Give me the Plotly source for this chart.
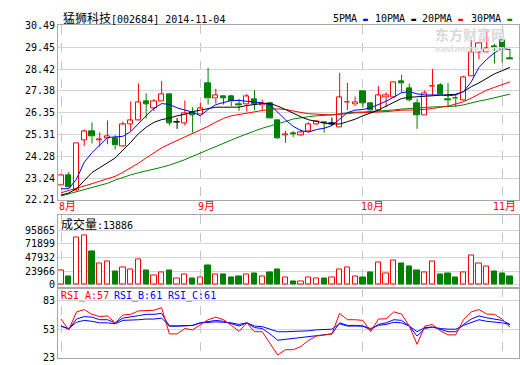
import plotly.graph_objects as go

# ---------------- data ----------------
dates = [
    "2014-08-06", "2014-08-07", "2014-08-08", "2014-08-11", "2014-08-12", "2014-08-13",
    "2014-08-14", "2014-08-15", "2014-08-18", "2014-08-19", "2014-08-20", "2014-08-21",
    "2014-08-22", "2014-08-25", "2014-08-26", "2014-08-27", "2014-08-28", "2014-08-29",
    "2014-09-01", "2014-09-02", "2014-09-03", "2014-09-04", "2014-09-05", "2014-09-09",
    "2014-09-10", "2014-09-11", "2014-09-12", "2014-09-15", "2014-09-16", "2014-09-17",
    "2014-09-18", "2014-09-19", "2014-09-22", "2014-09-23", "2014-09-24", "2014-09-25",
    "2014-09-26", "2014-09-29", "2014-09-30", "2014-10-08", "2014-10-09", "2014-10-10",
    "2014-10-13", "2014-10-14", "2014-10-15", "2014-10-16", "2014-10-17", "2014-10-20",
    "2014-10-21", "2014-10-22", "2014-10-23", "2014-10-24", "2014-10-27", "2014-10-28",
    "2014-10-29", "2014-10-30", "2014-10-31", "2014-11-03", "2014-11-04",
]
opens = [22.90, 23.36, 22.67, 25.05, 25.47, 25.05, 25.12, 25.11, 24.77, 25.81,
         25.99, 26.90, 26.56, 26.89, 27.22, 25.89, 25.86, 26.35, 26.27, 27.76,
         27.01, 27.10, 27.13, 26.76, 26.73, 27.00, 26.69, 26.78, 25.98, 25.28,
         25.37, 25.29, 25.46, 25.81, 25.89, 25.82, 25.63, 26.83, 26.73, 27.36,
         26.78, 26.46, 27.07, 27.09, 27.85, 27.50, 26.81, 26.20, 27.59, 27.64,
         26.98, 27.05, 26.92, 28.08, 29.23, 29.23, 29.51, 29.77, 28.91]
highs = [23.38, 23.54, 24.89, 25.55, 25.89, 25.43, 25.98, 25.28, 25.93, 26.89,
         27.73, 27.27, 26.99, 27.85, 27.22, 26.09, 26.93, 26.61, 26.81, 28.47,
         27.48, 27.16, 27.19, 27.01, 27.24, 27.42, 26.96, 26.85, 26.01, 25.49,
         25.47, 25.55, 25.89, 25.96, 25.91, 26.12, 28.24, 27.77, 27.12, 27.36,
         26.85, 27.61, 27.32, 27.81, 28.14, 27.73, 27.01, 27.42, 28.42, 27.76,
         27.76, 27.22, 28.10, 29.80, 29.65, 30.31, 29.62, 29.77, 29.37]
lows = [22.88, 22.74, 22.64, 24.77, 24.89, 24.74, 24.85, 24.60, 24.74, 25.48,
        25.97, 26.07, 26.43, 26.89, 25.74, 25.58, 25.74, 25.40, 26.27, 26.73,
        26.78, 26.73, 26.66, 26.43, 26.40, 26.47, 26.47, 26.07, 25.12, 24.92,
        25.20, 25.23, 25.41, 25.78, 25.40, 25.74, 25.63, 26.47, 26.66, 26.58,
        26.35, 26.46, 26.60, 27.04, 27.28, 26.88, 25.58, 26.20, 27.16, 27.20,
        26.62, 26.62, 26.90, 28.08, 28.88, 29.23, 28.68, 28.73, 28.86]
closes = [23.36, 22.79, 24.89, 25.46, 25.21, 25.07, 25.23, 24.78, 25.78, 25.97,
          26.84, 26.76, 26.89, 27.24, 25.86, 25.89, 26.30, 26.24, 26.53, 27.01,
          27.18, 27.05, 26.87, 26.69, 27.12, 26.75, 26.81, 26.09, 25.15, 25.32,
          25.32, 25.41, 25.80, 25.92, 25.86, 25.82, 27.07, 26.86, 26.86, 26.81,
          26.44, 27.18, 27.18, 27.81, 27.74, 26.93, 26.23, 27.27, 27.62, 27.22,
          26.93, 27.01, 28.04, 29.23, 29.65, 29.42, 29.46, 29.37, 28.86]
volumes = [25700, 14300, 83900, 86200, 58800, 37700, 41100, 22800, 30800, 27400,
           44500, 24500, 15400, 22300, 24500, 10300, 17100, 10800, 12000, 33100,
           18800, 17700, 12600, 14300, 17100, 20000, 13700, 21100, 26200, 12000,
           5700, 5100, 12000, 10300, 10800, 12000, 27400, 30800, 13700, 12600,
           21100, 39400, 19400, 42800, 38200, 31400, 24500, 21100, 41100, 17700,
           19400, 12600, 22300, 51400, 36500, 32500, 22800, 19400, 13886]
ma5 = [22.74, 22.74, 23.20, 24.00, 24.45, 24.80, 25.17, 25.20, 25.23, 25.45,
       25.85, 26.20, 26.55, 26.78, 26.74, 26.58, 26.47, 26.38, 26.20, 26.50,
       26.73, 26.84, 26.93, 26.93, 26.89, 26.84, 26.81, 26.73, 26.35, 26.01,
       25.70, 25.50, 25.43, 25.55, 25.61, 25.74, 26.04, 26.35, 26.47, 26.50,
       26.58, 26.73, 26.89, 27.09, 27.30, 27.35, 27.24, 27.19, 27.19, 27.19,
       27.15, 27.19, 27.35, 27.81, 28.50, 28.88, 29.19, 29.39, 29.34]
ma10 = [22.44, 22.54, 22.74, 23.13, 23.51, 23.74, 23.97, 24.20, 24.58, 24.94,
        25.35, 25.66, 25.89, 26.02, 26.09, 26.20, 26.27, 26.40, 26.47, 26.53,
        26.61, 26.61, 26.61, 26.61, 26.69, 26.73, 26.78, 26.78, 26.66, 26.50,
        26.32, 26.15, 26.01, 25.92, 25.86, 25.81, 25.81, 25.92, 26.04, 26.20,
        26.35, 26.47, 26.66, 26.84, 27.02, 27.08, 27.10, 27.10, 27.15, 27.18,
        27.20, 27.22, 27.35, 27.58, 27.76, 27.96, 28.19, 28.34, 28.50]
ma20 = [22.55, 22.65, 22.76, 22.87, 22.98, 23.10, 23.21, 23.33, 23.52, 23.72,
        23.95, 24.20, 24.45, 24.68, 24.86, 25.03, 25.20, 25.36, 25.52, 25.70,
        25.90, 26.08, 26.20, 26.27, 26.33, 26.40, 26.45, 26.50, 26.53, 26.50,
        26.42, 26.36, 26.30, 26.27, 26.25, 26.24, 26.27, 26.32, 26.34, 26.35,
        26.36, 26.38, 26.40, 26.43, 26.47, 26.47, 26.47, 26.50, 26.55, 26.60,
        26.66, 26.76, 26.87, 27.04, 27.24, 27.42, 27.55, 27.68, 27.81]
ma30 = [22.40, 22.50, 22.58, 22.67, 22.80, 22.90, 23.00, 23.15, 23.28, 23.40,
        23.50, 23.58, 23.67, 23.76, 23.86, 23.98, 24.12, 24.28, 24.44, 24.58,
        24.74, 24.90, 25.05, 25.20, 25.35, 25.48, 25.61, 25.71, 25.81, 25.93,
        26.05, 26.12, 26.16, 26.20, 26.22, 26.25, 26.30, 26.35, 26.37, 26.38,
        26.40, 26.42, 26.45, 26.48, 26.52, 26.55, 26.57, 26.59, 26.62, 26.63,
        26.64, 26.66, 26.72, 26.82, 26.90, 26.97, 27.05, 27.14, 27.23]
rsi_a = [63.7, 52.3, 71.3, 73.7, 68.7, 66.3, 67.0, 59.7, 68.0, 68.7,
         72.3, 73.0, 73.0, 75.7, 48.0, 48.0, 53.7, 52.3, 58.0, 63.0,
         65.7, 63.0, 57.0, 50.7, 59.7, 50.3, 50.3, 38.0, 25.7, 31.3,
         31.3, 34.7, 41.3, 45.7, 47.0, 48.0, 69.7, 63.0, 63.0, 62.3,
         50.3, 63.7, 64.0, 71.3, 69.0, 56.3, 37.0, 56.3, 58.0, 51.3,
         47.0, 47.0, 63.0, 71.3, 73.7, 69.0, 68.7, 63.7, 55.0]
rsi_b = [56.3, 53.0, 63.7, 66.3, 65.7, 63.0, 63.0, 59.7, 64.7, 65.7,
         67.3, 68.7, 68.7, 69.7, 56.3, 56.3, 57.0, 57.0, 59.7, 61.3,
         62.3, 61.3, 59.0, 56.3, 59.7, 54.7, 53.7, 48.0, 41.3, 42.3,
         43.0, 43.7, 44.7, 46.3, 47.3, 48.0, 59.7, 57.0, 57.0, 56.3,
         52.3, 58.0, 59.7, 63.0, 62.3, 56.3, 45.7, 53.7, 55.3, 53.0,
         50.3, 50.3, 58.0, 63.7, 67.0, 65.0, 63.7, 62.3, 58.0]
rsi_c = [56.3, 53.7, 60.3, 62.3, 61.3, 59.7, 59.7, 58.7, 62.3, 62.3,
         63.0, 63.7, 63.7, 64.7, 56.3, 56.3, 57.0, 57.0, 59.7, 60.3,
         60.7, 60.3, 59.7, 58.0, 59.7, 56.3, 55.7, 53.0, 50.3, 50.3,
         50.7, 50.7, 51.3, 52.3, 53.0, 53.0, 58.7, 56.3, 56.3, 56.3,
         53.7, 57.0, 58.0, 60.3, 59.7, 56.3, 50.3, 54.7, 55.3, 53.7,
         53.0, 53.0, 57.0, 60.3, 63.0, 61.3, 60.7, 59.7, 58.0]
rsi_header_values = [57, 61, 61]
rsi_names = ["RSI_A", "RSI_B", "RSI_C"]

price_ticks = [22.21, 23.24, 24.28, 25.31, 26.35, 27.38, 28.42, 29.45, 30.49]
volume_ticks = [0, 23966, 47932, 71899, 95865]
rsi_ticks = [23, 53, 83]
month_starts = ["2014-08-06", "2014-09-01", "2014-10-08", "2014-11-03"]
month_labels = ["8月", "9月", "10月", "11月"]
stock_name = "猛狮科技"
stock_code = "002684"
chart_date = "2014-11-04"
ma_names = ["5PMA", "10PMA", "20PMA", "30PMA"]

# ---------------- style ----------------
RED = "#ff0000"
GREEN = "#008000"
BLUE = "#0000ff"
BLACK = "#000000"
MA_COLORS = [BLUE, BLACK, RED, GREEN]
GRID = "#d4d4d4"
VGRID = "#c4c4c4"
BORDER = "#a8a8a8"
MONO = "DejaVu Sans Mono, Noto Sans CJK SC"
CJK = "Noto Sans CJK SC"
W, H = 520, 365


def px_x(p):
    return p / W


def px_y(p):
    return 1 - p / H


X_RANGE = [-0.39, 59.17]
X_DOMAIN = [px_x(58), px_x(519)]

fig = go.Figure()

n = len(dates)
body_h, body_base, body_fill, body_line = [], [], [], []
for i in range(n):
    o, c = opens[i], closes[i]
    h = abs(c - o)
    if h < 0.03:
        body_h.append(0.03)
        body_base.append(min(o, c) - (0.03 - h) / 2)
    else:
        body_h.append(h)
        body_base.append(min(o, c))
    if c > o:
        body_fill.append("#ffffff"); body_line.append(RED)
    elif c < o:
        body_fill.append(GREEN); body_line.append(GREEN)
    else:
        body_fill.append(BLACK); body_line.append(BLACK)

fig.add_trace(go.Bar(x=dates, y=body_h, base=body_base, width=0.68,
                     marker=dict(color=body_fill, line=dict(color=body_line, width=1)),
                     xaxis="x", yaxis="y"))


def wick_xy(kind):
    xs, ys = [], []
    for i in range(n):
        o, c = opens[i], closes[i]
        k = "up" if c > o else ("down" if c < o else "flat")
        if k != kind:
            continue
        top, bot = max(o, c), min(o, c)
        if highs[i] > top:
            xs += [dates[i], dates[i], None]; ys += [highs[i], top, None]
        if lows[i] < bot:
            xs += [dates[i], dates[i], None]; ys += [bot, lows[i], None]
    return xs, ys


for kind, col in [("up", RED), ("down", GREEN), ("flat", BLACK)]:
    xs, ys = wick_xy(kind)
    fig.add_trace(go.Scatter(x=xs, y=ys, mode="lines", line=dict(color=col, width=1),
                             xaxis="x", yaxis="y", hoverinfo="skip"))

for vals, col in zip([ma30, ma20, ma10, ma5], [GREEN, RED, BLACK, BLUE]):
    fig.add_trace(go.Scatter(x=dates, y=vals, mode="lines", line=dict(color=col, width=1),
                             xaxis="x", yaxis="y"))

vol_fill = ["#ffffff" if closes[i] >= opens[i] else GREEN for i in range(n)]
vol_line = [RED if closes[i] >= opens[i] else GREEN for i in range(n)]
fig.add_trace(go.Bar(x=dates, y=volumes, width=0.68,
                     marker=dict(color=vol_fill, line=dict(color=vol_line, width=1)),
                     xaxis="x2", yaxis="y2"))

for vals, col in zip([rsi_c, rsi_b, rsi_a], [BLUE, BLUE, RED]):
    fig.add_trace(go.Scatter(x=dates, y=vals, mode="lines", line=dict(color=col, width=1),
                             xaxis="x3", yaxis="y3"))


def xaxis_cfg(anchor):
    return dict(domain=X_DOMAIN, range=X_RANGE, type="category", anchor=anchor,
                categoryorder="array", categoryarray=dates,
                showticklabels=False, ticks="", showgrid=True, gridcolor=VGRID,
                griddash="dash", gridwidth=1, tickmode="array", tickvals=month_starts,
                showline=True, mirror=True, linecolor=BORDER, linewidth=1, zeroline=False,
                fixedrange=True)


def yaxis_cfg(domain, rng, ticks, text, anchor):
    return dict(domain=domain, range=rng, anchor=anchor, tickmode="array", tickvals=ticks,
                ticktext=text, showgrid=True, gridcolor=GRID, gridwidth=1, zeroline=False,
                showline=True, mirror=True, linecolor=BORDER, linewidth=1, ticks="",
                tickfont=dict(family=MONO, size=10, color=BLACK), fixedrange=True)


vol_top = 95865 + (232.3 - 217) * 95865 / 56.0
vol_bot = -(291.5 - 288.3) * 95865 / 56.0
rsi_top = 83 + (305 - 291.5) / 0.975

fig.update_layout(
    width=W, height=H, margin=dict(l=0, r=0, t=0, b=0),
    paper_bgcolor="white", plot_bgcolor="white", showlegend=False, bargap=0,
    xaxis=xaxis_cfg("y"),
    xaxis2=xaxis_cfg("y2"),
    xaxis3=xaxis_cfg("y3"),
    yaxis=yaxis_cfg([px_y(201), px_y(21)], [price_ticks[0], price_ticks[-1]], price_ticks,
                    ["%.2f" % v for v in price_ticks], "x"),
    yaxis2=yaxis_cfg([px_y(291.5), px_y(217)], [vol_bot, vol_top], volume_ticks,
                     [str(v) for v in volume_ticks], "x2"),
    yaxis3=yaxis_cfg([px_y(363.5), px_y(291.5)], [23, rsi_top], rsi_ticks,
                     [str(v) for v in rsi_ticks], "x3"),
)

ann = []
ann.append(dict(xref="paper", yref="paper", x=px_x(61), y=px_y(14), xanchor="left",
                yanchor="middle", showarrow=False,
                text="<span style='font-size:12px'>%s</span>[%s] %s" % (stock_name, stock_code, chart_date),
                font=dict(family=MONO, size=10, color=BLACK)))
leg_x = [331, 373, 420, 469]
for name, col, lx in zip(ma_names, MA_COLORS, leg_x):
    ann.append(dict(xref="paper", yref="paper", x=px_x(lx), y=px_y(14), xanchor="left",
                    yanchor="middle", showarrow=False,
                    text="%s <span style='color:%s;font-size:8px'>▬</span>" % (name, col),
                    font=dict(family=MONO, size=10, color=BLACK)))
ann.append(dict(xref="paper", yref="paper", x=px_x(470), y=px_y(30), xanchor="center",
                yanchor="middle", showarrow=False, text="<b>东方财富网</b>",
                font=dict(family=CJK, size=14, color="#dadada")))
ann.append(dict(xref="paper", yref="paper", x=px_x(470), y=px_y(46), xanchor="center",
                yanchor="middle", showarrow=False, text="<b>eastmoney.com</b>",
                font=dict(family="DejaVu Sans", size=8, color="#e0e0e0")))
for k, (d, lab) in enumerate(zip(month_starts, month_labels)):
    last = k == len(month_starts) - 1
    ann.append(dict(xref="x" if not last else "paper", yref="paper",
                    x=d if not last else px_x(520), y=px_y(208),
                    xanchor="left" if not last else "right",
                    yanchor="middle", showarrow=False, xshift=-3, borderpad=0,
                    text="%s<span style='font-size:11px'>%s</span>" % (lab[:-1], lab[-1]),
                    font=dict(family=MONO, size=10, color=RED)))
ann.append(dict(xref="paper", yref="paper", x=px_x(59), y=px_y(226), xanchor="left",
                yanchor="middle", showarrow=False,
                text="<span style='font-size:12px'>成交量</span>:%d" % volumes[-1],
                font=dict(family=MONO, size=10, color=BLACK)))
rsi_hx = [59, 112, 166]
for name, v, col, hx in zip(rsi_names, rsi_header_values, [RED, BLUE, BLUE], rsi_hx):
    ann.append(dict(xref="paper", yref="paper", x=px_x(hx), y=px_y(300), xanchor="left",
                    yanchor="middle", showarrow=False, text="%s:%d" % (name, v),
                    font=dict(family=MONO, size=10, color=col)))

fig.update_layout(annotations=ann)
fig.write_html("out.html")
